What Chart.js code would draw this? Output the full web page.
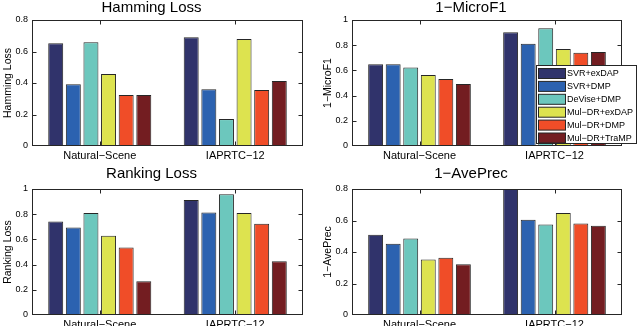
<!DOCTYPE html>
<html>
<head>
<meta charset="utf-8">
<script src="https://cdn.jsdelivr.net/npm/chart.js"></script>
<style>
  body { margin: 0; background: #fff; }
  #wrap { position: relative; width: 640px; height: 326px; overflow: hidden; }
  canvas { position: absolute; }
</style>
</head>
<body>
<div id="wrap">
  <canvas id="hamming" width="320" height="163" style="left:0;top:0"></canvas>
  <canvas id="microf1" width="320" height="163" style="left:320px;top:0"></canvas>
  <canvas id="ranking" width="320" height="163" style="left:0;top:163px"></canvas>
  <canvas id="aveprec" width="320" height="163" style="left:320px;top:163px"></canvas>
</div>
<script>
// categories and methods
const categories = ['Natural\u2212Scene', 'IAPRTC\u221212'];
const methods = ['SVR+exDAP', 'SVR+DMP', 'DeVise+DMP', 'Mul\u2212DR+exDAP', 'Mul\u2212DR+DMP', 'Mul\u2212DR+TraMP'];
const methodColors = ['#30336b', '#2c62b0', '#6cc7bd', '#dde34f', '#f04d28', '#731d21'];

// values per method: [Natural-Scene, IAPRTC-12]
const hammingLoss = [[0.652, 0.690], [0.392, 0.360], [0.658, 0.171], [0.457, 0.679], [0.324, 0.356], [0.324, 0.413]];
const microF1Err  = [[0.648, 0.902], [0.648, 0.812], [0.624, 0.934], [0.563, 0.770], [0.532, 0.741], [0.492, 0.746]];
const rankingLoss = [[0.743, 0.912], [0.695, 0.814], [0.809, 0.958], [0.629, 0.809], [0.536, 0.724], [0.268, 0.427]];
const avePrecErr  = [[0.509, 0.800], [0.452, 0.605], [0.486, 0.575], [0.352, 0.647], [0.363, 0.581], [0.323, 0.567]];

// y axis ranges (ticks every 0.2)
const yMax = [0.8, 1, 1, 0.8];
const yStep = 0.2;

Chart.defaults.font.family = '"Liberation Sans", Arial, sans-serif';
Chart.defaults.color = '#000';

const axisColor = '#262626';

// matlab style box with inward ticks
const boxPlugin = {
    id: 'matlabBox',
    afterDraw(chart) {
        const ctx = chart.ctx;
        const a = chart.chartArea;
        const L = Math.round(a.left) + 0.5, R = Math.round(a.right) - 0.5;
        const T = Math.round(a.top) + 0.5, B = Math.round(a.bottom) - 0.5;
        ctx.save();
        ctx.strokeStyle = axisColor;
        ctx.lineWidth = 1;
        ctx.strokeRect(L, T, R - L, B - T);
        ctx.beginPath();
        const ys = chart.scales.y;
        ys.ticks.forEach((t, i) => {
            const py = Math.round(ys.getPixelForTick(i)) + 0.5;
            if (py <= T + 1 || py >= B - 1) return;
            ctx.moveTo(L, py); ctx.lineTo(L + 4, py);
            ctx.moveTo(R, py); ctx.lineTo(R - 4, py);
        });
        const xs = chart.scales.x;
        xs.ticks.forEach((t, i) => {
            const px = Math.round(xs.getPixelForTick(i)) + 0.5;
            ctx.moveTo(px, T); ctx.lineTo(px, T + 4);
            ctx.moveTo(px, B); ctx.lineTo(px, B - 4);
        });
        ctx.stroke();
        ctx.restore();
    }
};

// legend box overlapping the plot (top-right panel only)
const legendBoxPlugin = {
    id: 'legendBox',
    afterDraw(chart) {
        const ctx = chart.ctx;
        const a = chart.chartArea;
        const x0 = a.right - 86, y0 = a.top + 45, w = 101, h = 79;
        ctx.save();
        ctx.fillStyle = '#fff';
        ctx.fillRect(x0, y0, w, h);
        ctx.strokeStyle = axisColor;
        ctx.lineWidth = 1;
        ctx.strokeRect(x0 + 0.5, y0 + 0.5, w - 1, h - 1);
        ctx.font = '9px "Liberation Sans", Arial, sans-serif';
        ctx.textBaseline = 'middle';
        ctx.textAlign = 'left';
        chart.data.datasets.forEach((ds, i) => {
            const top = y0 + 3.5 + i * 12.9;
            ctx.fillStyle = ds.backgroundColor;
            ctx.fillRect(x0 + 2.5, top, 27, 10);
            ctx.strokeRect(x0 + 2.5, top, 27, 10);
            ctx.fillStyle = '#000';
            ctx.fillText(ds.label, x0 + 31, top + 5.5);
        });
        ctx.restore();
    }
};

function makePanel(id, title, yLabel, values, max, o) {
    const plugins = [boxPlugin];
    if (o.legend) plugins.push(legendBoxPlugin);
    return new Chart(document.getElementById(id), {
        type: 'bar',
        data: {
            labels: categories,
            datasets: methods.map((m, i) => ({
                label: m,
                data: values[i],
                backgroundColor: methodColors[i],
                borderColor: axisColor,
                borderWidth: 1,
                categoryPercentage: 0.78,
                barPercentage: 0.85
            }))
        },
        options: {
            responsive: false,
            animation: false,
            layout: { padding: { left: 0, right: o.padRight, top: 0, bottom: 0 } },
            plugins: {
                legend: { display: false },
                tooltip: { enabled: false },
                title: {
                    display: true,
                    text: title,
                    color: '#000',
                    font: { size: 15, weight: 'normal', lineHeight: 1 },
                    padding: { top: o.titleTop, bottom: o.titleBottom }
                }
            },
            scales: {
                x: {
                    grid: { display: false, drawTicks: false },
                    border: { display: false },
                    ticks: { font: { size: 11 }, color: '#000', padding: 3, maxRotation: 0 },
                    afterFit: s => { s.height = o.xHeight; }
                },
                y: {
                    min: 0,
                    max: max,
                    ticks: {
                        stepSize: yStep,
                        font: { size: 9 },
                        color: '#000',
                        padding: 4,
                        // matlab style: 0, 0.2, ... 1
                        callback: v => String(Number(v.toFixed(1)))
                    },
                    grid: { display: false, drawTicks: false },
                    border: { display: false },
                    title: { display: true, text: yLabel, color: '#000', font: { size: 10.5 }, padding: { top: 2, bottom: 0 } },
                    afterFit: s => { s.width = 32; }
                }
            }
        },
        plugins: plugins
    });
}

makePanel('hamming', 'Hamming Loss', 'Hamming Loss', hammingLoss, yMax[0],
    { padRight: 17, titleTop: 0, titleBottom: 5, xHeight: 17 });
makePanel('microf1', '1\u2212MicroF1', '1\u2212MicroF1', microF1Err, yMax[1],
    { padRight: 18, titleTop: 0, titleBottom: 5, xHeight: 17, legend: true });
makePanel('ranking', 'Ranking Loss', 'Ranking Loss', rankingLoss, yMax[2],
    { padRight: 17, titleTop: 3, titleBottom: 8, xHeight: 11 });
makePanel('aveprec', '1\u2212AvePrec', '1\u2212AvePrec', avePrecErr, yMax[3],
    { padRight: 18, titleTop: 3, titleBottom: 8, xHeight: 11 });
</script>
</body>
</html>
